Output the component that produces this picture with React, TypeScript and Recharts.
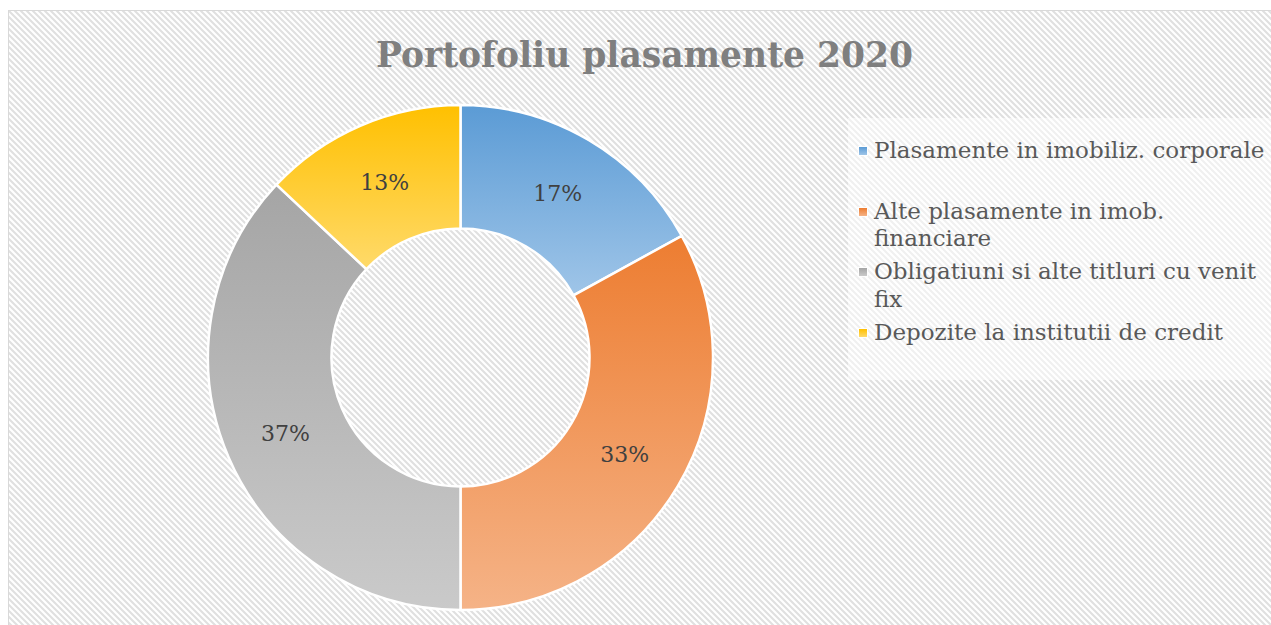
import React from 'react';
import { PieChart, Pie, Cell, Legend } from 'recharts';

const categories = [
  'Plasamente in imobiliz. corporale',
  'Alte plasamente in imob. financiare',
  'Obligatiuni si alte titluri cu venit fix',
  'Depozite la institutii de credit',
];
const shares = [17, 33, 37, 13];
const topColors = ['#5b9bd5', '#ed7d31', '#a5a5a5', '#ffc000'];
const bottomColors = ['#9fc5e8', '#f5b387', '#cacaca', '#ffda6a'];
const title = 'Portofoliu plasamente 2020';

const data = categories.map((name, i) => ({ name, value: shares[i] }));

const SERIF = '"DejaVu Serif", serif';
const RAD = Math.PI / 180;

const HATCH =
  "url(\"data:image/svg+xml,%3Csvg xmlns='http://www.w3.org/2000/svg' width='6' height='6'%3E%3Cpath d='M-1,-1 L7,7 M-1,5 L1,7 M5,-1 L7,1' stroke='%23e0e0e0' stroke-width='2.1' fill='none'/%3E%3C/svg%3E\")";

const renderLabel = (props: any) => {
  const { cx, cy, midAngle, innerRadius, outerRadius, value } = props;
  const r = (innerRadius + outerRadius) / 2;
  const x = cx + r * Math.cos(-midAngle * RAD);
  const y = cy + r * Math.sin(-midAngle * RAD);
  return (
    <text
      x={x}
      y={y}
      textAnchor="middle"
      dominantBaseline="central"
      fill="#404040"
      style={{ fontFamily: SERIF, fontSize: 22 }}
    >
      {`${value}%`}
    </text>
  );
};

const renderLegend = () => (
  <div style={{ paddingTop: 19, paddingLeft: 11, boxSizing: 'border-box' }}>
    {categories.map((name, k) => (
      <div key={name} style={{ position: 'relative', height: 60.5 }}>
        <span
          style={{
            position: 'absolute',
            left: 0,
            top: 10,
            width: 8,
            height: 8,
            background: `linear-gradient(${topColors[k]}, ${bottomColors[k]})`,
            boxShadow: '0 0 0 1px rgba(255,255,255,0.9)',
          }}
        />
        <div
          style={{
            position: 'absolute',
            left: 15,
            top: 0,
            width: 398,
            fontFamily: SERIF,
            fontSize: 23,
            lineHeight: '27.5px',
            color: '#595959',
            whiteSpace: 'normal',
          }}
        >
          {name}
        </div>
      </div>
    ))}
  </div>
);

export default function App() {
  return (
    <div
      style={{
        marginLeft: 8,
        marginTop: 10,
        width: 1263,
        height: 615,
        boxSizing: 'border-box',
        borderLeft: '1px solid #d9d9d9',
        borderTop: '1px solid #d9d9d9',
        position: 'relative',
        overflow: 'hidden',
        backgroundColor: '#ffffff',
        backgroundImage: HATCH,
      }}
    >
      <style>{'html,body{margin:0;padding:0;overflow:hidden}'}</style>
      <div
        style={{
          position: 'absolute',
          left: 0,
          top: 24,
          width: 1271,
          textAlign: 'center',
          fontFamily: SERIF,
          fontWeight: 'bold',
          fontSize: 34.5,
          lineHeight: '40px',
          color: '#7f7f7f',
          zIndex: 2,
        }}
      >
        {title}
      </div>
      <PieChart width={1262} height={614} margin={{ top: 0, right: 0, bottom: 0, left: 0 }}>
        <defs>
          {topColors.map((c, i) => (
            <linearGradient key={i} id={`slice${i}`} x1="0" y1="0" x2="0" y2="1">
              <stop offset="0%" stopColor={c} />
              <stop offset="100%" stopColor={bottomColors[i]} />
            </linearGradient>
          ))}
        </defs>
        <Pie
          data={data}
          dataKey="value"
          nameKey="name"
          cx={451.5}
          cy={346.5}
          innerRadius={129}
          outerRadius={252.5}
          startAngle={90}
          endAngle={-270}
          stroke="#ffffff"
          strokeWidth={2.5}
          label={renderLabel}
          labelLine={false}
          isAnimationActive={false}
        >
          {data.map((d, i) => (
            <Cell key={d.name} fill={`url(#slice${i})`} />
          ))}
        </Pie>
        <Legend
          layout="vertical"
          align="right"
          verticalAlign="top"
          content={renderLegend}
          wrapperStyle={{
            left: 839,
            top: 107,
            width: 423,
            height: 262,
            background: 'rgba(255,255,255,0.5)',
          }}
        />
      </PieChart>
    </div>
  );
}
